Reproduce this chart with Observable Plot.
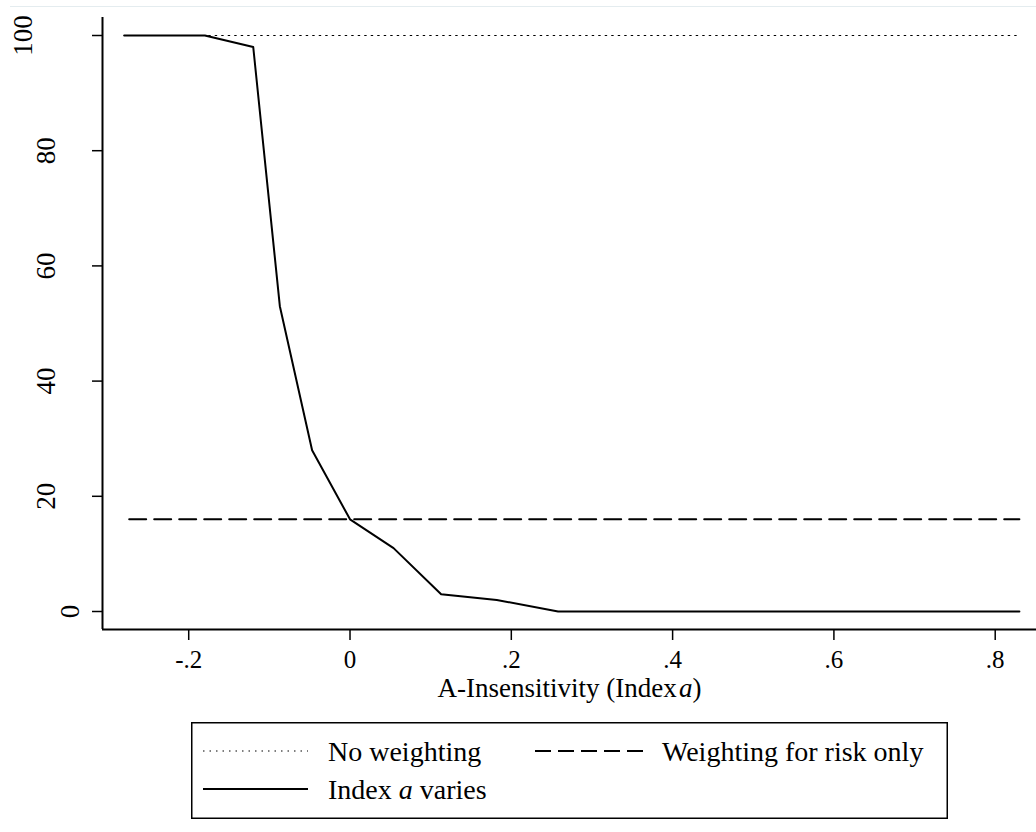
<!DOCTYPE html>
<html><head><meta charset="utf-8">
<script src="https://cdn.jsdelivr.net/npm/d3@7"></script>
<script src="https://cdn.jsdelivr.net/npm/@observablehq/plot@0.6"></script>
<style>
body{margin:0;background:#fff;}
#wrap{position:relative;width:1036px;height:832px;font-family:"Liberation Serif","Times New Roman",serif;overflow:hidden;}
#topline{position:absolute;left:10px;right:0;top:6px;height:0;border-top:1px solid #e4ecef;}
#chart{position:absolute;left:0;top:0;}
#legend{position:absolute;left:191px;top:722px;}
</style></head>
<body><div id="wrap"><div id="topline"></div><div id="chart"></div><div id="legend"></div></div>
<script>
// ---- data ----
const aValues     = [-0.28, -0.18, -0.12, -0.087, -0.047, 0, 0.054, 0.113, 0.182, 0.258, 0.83];
const indexVaries = [100, 100, 98, 53, 28, 16, 11, 3, 2, 0, 0];
const noWeighting = [100, 100];          // constant level, spans the a-range
const riskOnly    = [16, 16];            // constant level, spans the a-range
const levelRange  = [-0.28, 0.83];
const xTicks = [-0.2, 0, 0.2, 0.4, 0.6, 0.8];
const yTicks = [0, 20, 40, 60, 80, 100];
const xTitle = "A-Insensitivity (Index";
const legendItems = ["No weighting", "Weighting for risk only", "Index a varies"];

// ---- derived tables ----
const solid = aValues.map((a, i) => ({a, v: indexVaries[i]}));
const dotted = levelRange.map((a, i) => ({a, v: noWeighting[i]}));
const dashed = levelRange.map((a, i) => ({a, v: riskOnly[i]}));

const xDomain = [-0.3069, 0.8512];
const yDomain = [-3.125, 103.125];
const fmtX = d => d === 0 ? "0" : d3.format(".1f")(d).replace("\u2212", "-").replace("0.", ".");
const FONT = '"Liberation Serif","Times New Roman",serif';

const yLabelMarks = [1, 2, 3].map(len => {
  const dxByLen = {1: -32, 2: -56, 3: -79};
  return Plot.text(yTicks.filter(d => String(d).length === len), {
    x: () => xDomain[0], y: d => d, text: d => String(d),
    rotate: -90, dx: dxByLen[len], fontSize: 27, fill: "#000"
  });
});

const chart = Plot.plot({
  width: 1036, height: 715,
  marginLeft: 102, marginRight: 0, marginTop: 17, marginBottom: 86,
  x: {domain: xDomain},
  y: {domain: yDomain},
  style: {fontFamily: FONT, fontSize: "27px", color: "#000", background: "transparent"},
  marks: [
    Plot.ruleX([xDomain[0]], {y1: yDomain[0], y2: yDomain[1], stroke: "#000", strokeWidth: 2}),
    Plot.ruleY([yDomain[0]], {x1: xDomain[0], x2: xDomain[1], stroke: "#000", strokeWidth: 2}),
    Plot.axisX({ticks: xTicks, tickSize: 11, tickPadding: 10, tickFormat: fmtX, label: null, fontSize: 25, strokeWidth: 1.5}),
    Plot.axisY({ticks: yTicks, tickSize: 10, tickFormat: () => "", label: null, strokeWidth: 1.5}),
    ...yLabelMarks,
    Plot.line(dotted, {x: "a", y: "v", stroke: "#000", strokeWidth: 1.2, strokeDasharray: "1.5,5"}),
    Plot.line(dashed, {x: "a", y: "v", stroke: "#000", strokeWidth: 2, strokeDasharray: "17,8", strokeDashoffset: 20}),
    Plot.line(solid, {x: "a", y: "v", stroke: "#000", strokeWidth: 2}),
    Plot.text([xTitle], {frameAnchor: "bottom", text: d => d, dy: 67, fontSize: 27, fill: "#000"})
  ]
});
document.getElementById("chart").appendChild(chart);

// italic "a" in the axis title
const NS = "http://www.w3.org/2000/svg";
chart.querySelectorAll("text").forEach(t => {
  if (t.textContent === xTitle) {
    t.appendChild(document.createTextNode("\u200A"));
    const ts = document.createElementNS(NS, "tspan");
    ts.setAttribute("font-style", "italic");
    ts.textContent = "a";
    t.appendChild(ts);
    t.appendChild(document.createTextNode(")"));
  }
});

// ---- legend (below the plot) ----
const lg = d3.select("#legend").append("svg").attr("width", 757).attr("height", 97)
  .style("font-family", FONT).style("font-size", "28px");
lg.append("rect").attr("x", 0.75).attr("y", 0.75).attr("width", 755.5).attr("height", 95.5)
  .attr("fill", "none").attr("stroke", "#000").attr("stroke-width", 1.5);
const samples = [
  {x1: 12, x2: 117, y: 29, tx: 137, dash: "1.5,5", w: 1.2},
  {x1: 344, x2: 452, y: 29, tx: 471, dash: "16,7", w: 2},
  {x1: 12, x2: 117, y: 67, tx: 137, dash: null, w: 2}
];
samples.forEach((s, i) => {
  lg.append("line").attr("x1", s.x1).attr("x2", s.x2).attr("y1", s.y).attr("y2", s.y)
    .attr("stroke", "#000").attr("stroke-width", s.w).attr("stroke-dasharray", s.dash);
  const t = lg.append("text").attr("x", s.tx).attr("y", s.y + 10).attr("fill", "#000");
  const label = legendItems[i];
  if (label.includes(" a ")) {
    const [pre, post] = label.split(" a ");
    t.append("tspan").text(pre + " ");
    t.append("tspan").attr("font-style", "italic").text("a");
    t.append("tspan").text(" " + post);
  } else {
    t.text(label);
  }
});
</script>
</body></html>
